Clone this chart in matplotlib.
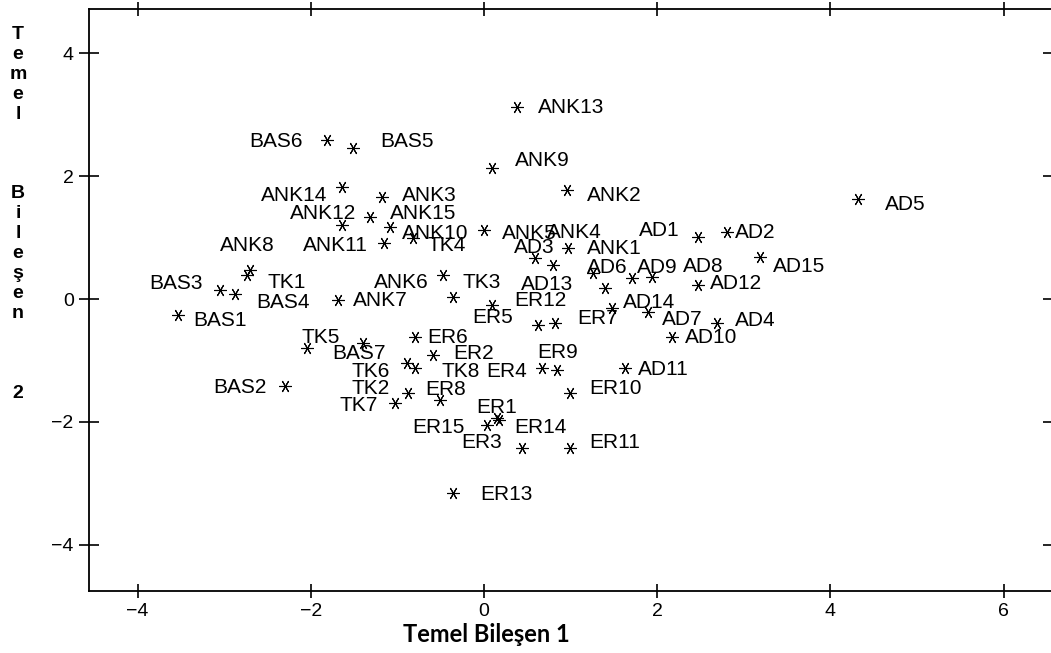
import matplotlib
matplotlib.use("Agg")
import matplotlib.pyplot as plt

# Temel bileşen skorları (PC1, PC2)
labels = ["ANK1", "ANK2", "ANK3", "ANK4", "ANK5", "ANK6", "ANK7", "ANK8",
          "ANK9", "ANK10", "ANK11", "ANK12", "ANK13", "ANK14", "ANK15",
          "AD1", "AD2", "AD3", "AD4", "AD5", "AD6", "AD7", "AD8",
          "AD9", "AD10", "AD11", "AD12", "AD13", "AD14", "AD15",
          "ER1", "ER2", "ER3", "ER4", "ER5", "ER6", "ER7", "ER8",
          "ER9", "ER10", "ER11", "ER12", "ER13", "ER14", "ER15",
          "TK1", "TK2", "TK3", "TK4", "TK5", "TK6", "TK7", "TK8",
          "BAS1", "BAS2", "BAS3", "BAS4", "BAS5", "BAS6", "BAS7"]
pc1 = [0.97, 0.96, -1.18, 0.80, 0.00, -0.47, -1.69, -2.70,
       0.09, -1.09, -1.15, -1.64, 0.38, -1.64, -1.32,
       2.47, 2.81, 0.59, 2.69, 4.32, 1.26, 1.89, 1.94,
       1.71, 2.17, 1.63, 2.47, 1.40, 1.48, 3.19,
       0.15, -0.59, 0.44, 0.67, 0.62, -0.80, 0.82, -0.51,
       0.84, 0.99, 0.99, 0.09, -0.36, 0.17, 0.03,
       -2.74, -0.88, -0.36, -0.82, -2.04, -0.89, -1.03, -0.80,
       -3.53, -2.30, -3.05, -2.88, -1.51, -1.81, -1.40]
pc2 = [0.83, 1.77, 1.66, 0.55, 1.12, 0.39, -0.02, 0.47,
       2.13, 1.17, 0.91, 1.20, 3.12, 1.82, 1.33,
       1.01, 1.09, 0.67, -0.39, 1.63, 0.42, -0.21, 0.36,
       0.34, -0.62, -1.12, 0.23, 0.18, -0.15, 0.68,
       -1.93, -0.91, -2.42, -1.12, -0.42, -0.62, -0.39, -1.64,
       -1.15, -1.53, -2.42, -0.10, -3.15, -1.97, -2.05,
       0.39, -1.53, 0.03, 0.99, -0.80, -1.04, -1.69, -1.12,
       -0.26, -1.41, 0.15, 0.08, 2.46, 2.59, -0.72]

xticks = [-4, -2, 0, 2, 4, 6]
yticks = [-4, -2, 0, 2, 4]

# etiket yerleşimi: (hizalama, dx, dy) piksel
lab_pos = {
    "ANK1": ("left", 19, 0), "ANK2": ("left", 20, -5), "ANK3": ("left", 20, 2),
    "ANK4": ("left", -6, 33), "ANK5": ("left", 18, -3), "ANK6": ("right", -15, -7),
    "ANK7": ("left", 15, 0), "ANK8": ("center", -3, 25), "ANK9": ("left", 23, 8),
    "ANK10": ("left", 12, -6), "ANK11": ("right", -17, -2), "ANK12": ("center", -19, 12),
    "ANK13": ("left", 21, 0), "ANK14": ("right", -15, -8), "ANK15": ("left", 20, 4),
    "AD1": ("right", -18, 7), "AD2": ("left", 8, 0), "AD3": ("center", -1, 10),
    "AD4": ("left", 18, 3), "AD5": ("left", 27, -6), "AD6": ("center", 14, 6),
    "AD7": ("left", 14, -8), "AD8": ("left", 31, 10), "AD9": ("center", 25, 11),
    "AD10": ("left", 13, 0), "AD11": ("left", 13, -2), "AD12": ("left", 12, 1),
    "AD13": ("right", -32, 4), "AD14": ("left", 11, 6), "AD15": ("left", 13, -9),
    "ER1": ("center", 0, 10), "ER2": ("left", 20, 2), "ER3": ("right", -20, 5),
    "ER4": ("right", -15, -4), "ER5": ("right", -25, 7), "ER6": ("left", 13, 0),
    "ER7": ("left", 22, 5), "ER8": ("center", 6, 10), "ER9": ("center", 1, 17),
    "ER10": ("left", 20, 5), "ER11": ("left", 20, 5), "ER12": ("left", 23, 5),
    "ER13": ("left", 27, -2), "ER14": ("left", 16, -7), "ER15": ("right", -22, -2),
    "TK1": ("left", 21, -7), "TK2": ("right", -18, 5), "TK3": ("left", 10, 15),
    "TK4": ("left", 15, -7), "TK5": ("center", 13, 11), "TK6": ("right", -17, -9),
    "TK7": ("right", -17, -3), "TK8": ("left", 27, -4),
    "BAS1": ("left", 15, -5), "BAS2": ("right", -18, -2), "BAS3": ("right", -17, 6),
    "BAS4": ("left", 22, -8), "BAS5": ("left", 27, 6), "BAS6": ("right", -24, -2),
    "BAS7": ("center", -4, -10),
}

plt.rcParams['font.family'] = ['Liberation Sans', 'DejaVu Sans']

fig = plt.figure(figsize=(10.51, 6.53), dpi=100)
ax = fig.add_axes([89 / 1051, 62 / 653, 964 / 1051, 582 / 653])

ax.plot(pc1, pc2, linestyle="none", marker=(6, 2, 90), markersize=9,
        markeredgewidth=0.8, color="black")
for name, x, y in zip(labels, pc1, pc2):
    ha, dx, dy = lab_pos[name]
    ax.annotate(name, (x, y), xytext=(dx, dy), textcoords="offset pixels",
                ha=ha, va="center", fontsize=15, color="black")

ax.set_xlim(-4.56, 6.57)
ax.set_ylim(-4.75, 4.72)
ax.set_xticks(xticks)
ax.set_yticks(yticks)
ax.tick_params(axis="x", direction="inout", length=9.5, width=1.2,
               top=True, labelsize=14, pad=4)
ax.tick_params(axis="y", direction="inout", length=14, width=1.2,
               right=True, labelsize=14, pad=4)
for s in ax.spines.values():
    s.set_linewidth(1.3)

# eksen başlıkları
fig.text(486 / 1051, 1 - 634 / 653, "Temel Bileşen 1", ha="center", va="center",
         fontsize=17, fontweight="bold", family=["Lato", "DejaVu Sans"])

ylab = "T\ne\nm\ne\nl\n\n\n\nB\ni\nl\ne\nş\ne\nn\n\n\n\n2"
fig.text(18 / 1051, 1 - 26 / 653, ylab, ha="center", va="top", fontsize=14,
         fontweight="bold", linespacing=1.225)

fig.savefig("out.png", dpi=100)
